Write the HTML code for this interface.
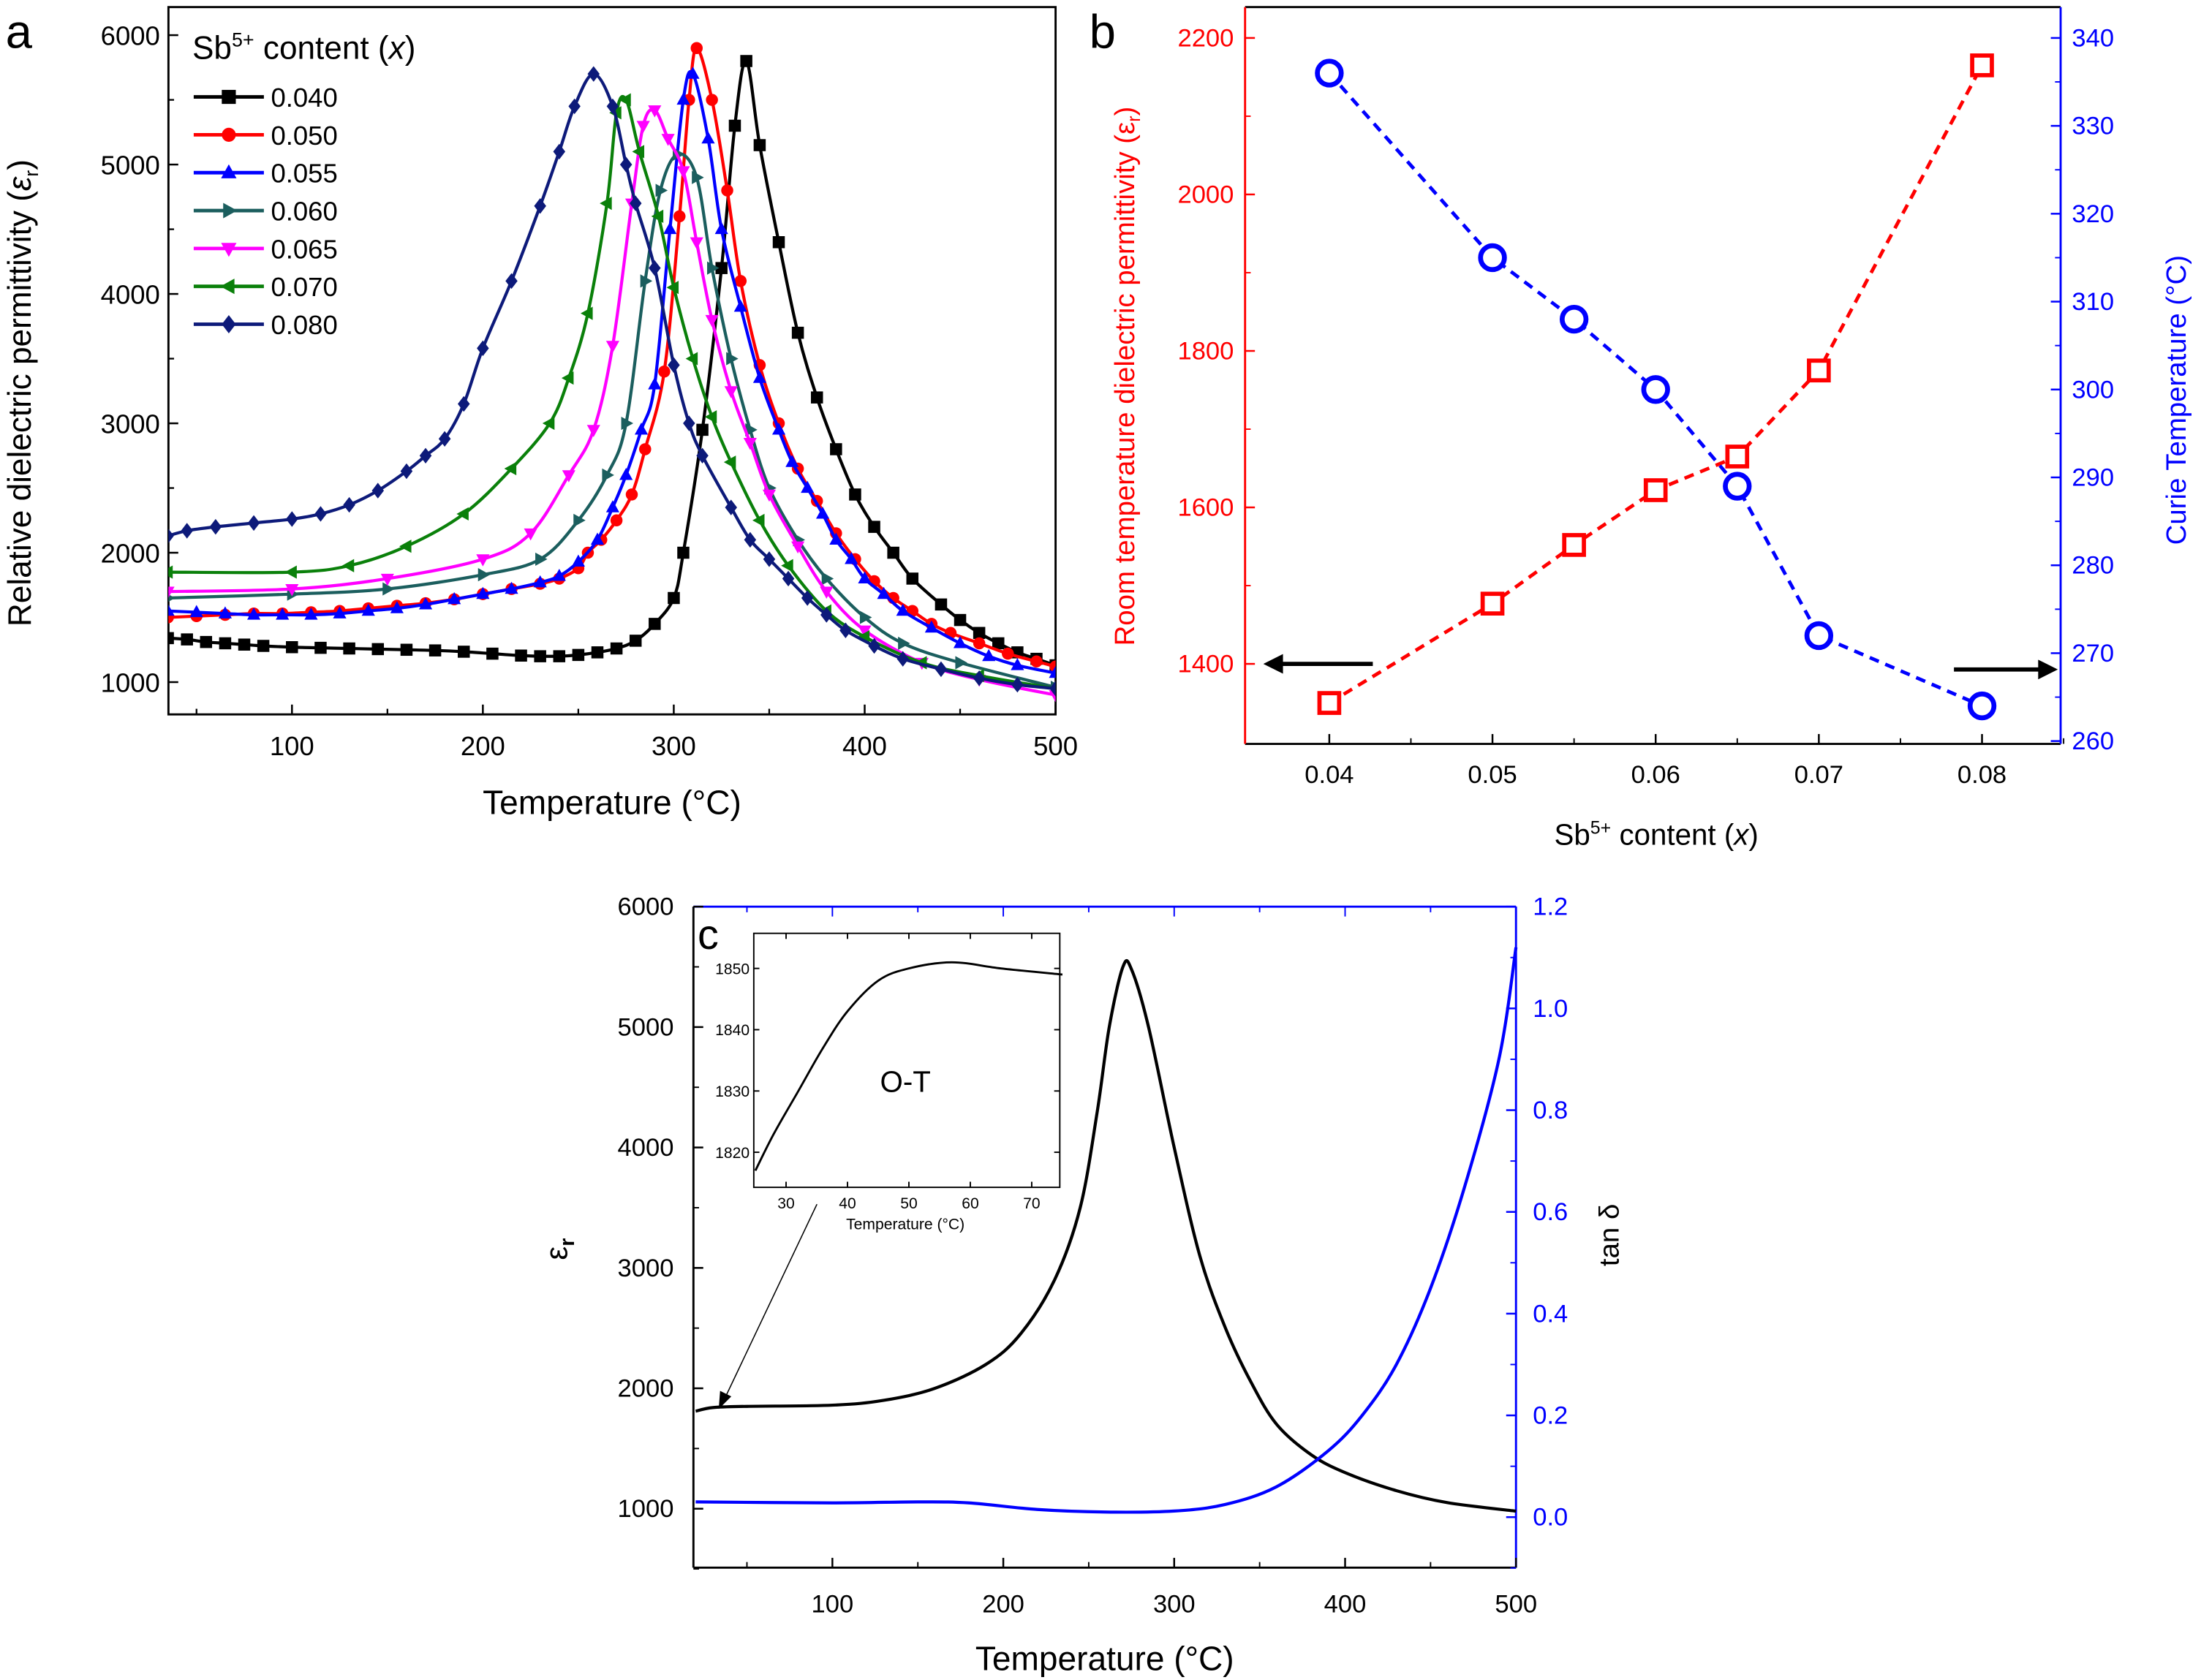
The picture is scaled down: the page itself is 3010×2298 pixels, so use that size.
<!DOCTYPE html>
<html><head><meta charset="utf-8"><style>
html,body{margin:0;padding:0;background:#fff}
svg{display:block;font-family:"Liberation Sans",Arial,sans-serif}
</style></head><body>
<svg id="fig" width="3010" height="2298" viewBox="0 0 1568 1197" xmlns="http://www.w3.org/2000/svg">
<g id="pa"></g>
<g id="pb"></g>
<g id="pc"></g>
</svg>
<script>
// ---------- Panel a data ----------
const aSeriesNames = ["0.040","0.050","0.055","0.060","0.065","0.070","0.080"];
const aColors = ["#000000","#ff0000","#0000ff","#1b5e5e","#ff00ff","#0a800a","#0d1a7a"];
const aMarkers = ["square","circle","up","right","down","left","diamond"];
const aT040 = [35,45,55,65,75,85,100,115,130,145,160,175,190,205,220,230,240,250,260,270,280,290,300,305,315,325,332,338,345,355,365,375,385,395,405,415,425,440,450,460,470,480,490,500];
const aE040 = [1340,1330,1310,1300,1290,1280,1270,1265,1260,1255,1250,1245,1235,1220,1205,1200,1200,1210,1230,1260,1320,1450,1650,2000,2950,4200,5300,5800,5150,4400,3700,3200,2800,2450,2200,2000,1800,1600,1480,1380,1300,1230,1180,1130];
const aT050 = [35,50,65,80,95,110,125,140,155,170,185,200,215,230,240,250,255,262,270,278,285,295,303,308,312,320,328,335,345,355,365,375,385,395,405,415,425,435,445,460,475,490,500];
const aE050 = [1500,1510,1520,1530,1530,1540,1550,1570,1590,1610,1640,1680,1720,1760,1800,1880,2000,2100,2250,2450,2800,3400,4600,5500,5900,5500,4800,4100,3450,3000,2650,2400,2150,1950,1780,1650,1550,1450,1380,1300,1220,1160,1120];
const aT055 = [35,50,65,80,95,110,125,140,155,170,185,200,215,230,240,250,260,268,275,283,290,298,305,310,318,325,335,345,355,362,370,378,385,393,400,410,420,435,450,465,480,500];
const aE055 = [1550,1540,1530,1520,1520,1520,1530,1550,1570,1600,1640,1680,1720,1770,1820,1930,2100,2350,2600,2950,3300,4500,5500,5700,5200,4500,3900,3350,2950,2700,2500,2300,2100,1950,1800,1680,1550,1420,1300,1200,1130,1070];
const aT060 = [35,100,150,200,230,250,265,275,285,293,302,312,320,330,340,350,365,380,400,420,450,500];
const aE060 = [1650,1680,1720,1830,1950,2250,2600,3000,4100,4800,5080,4900,4200,3500,2950,2500,2100,1800,1500,1300,1150,960];
const aT065 = [35,100,150,200,225,245,258,268,278,284,290,297,305,312,320,330,340,350,365,380,400,430,460,500];
const aE065 = [1700,1720,1800,1950,2150,2600,2950,3600,4700,5300,5420,5200,4950,4400,3800,3250,2850,2450,2050,1700,1400,1150,1020,900];
const aT070 = [35,100,130,160,190,215,235,245,255,265,270,275,282,292,300,310,320,330,345,360,380,400,430,460,500];
const aE070 = [1850,1850,1900,2050,2300,2650,3000,3350,3850,4700,5400,5500,5100,4600,4050,3500,3050,2700,2250,1900,1550,1350,1150,1050,950];
const aT080 = [35,45,60,80,100,115,130,145,160,170,180,190,200,215,230,240,248,258,268,275,280,290,300,308,315,330,340,350,360,370,380,390,405,420,440,460,480,500];
const aE080 = [2130,2170,2200,2230,2260,2300,2370,2480,2630,2750,2880,3150,3580,4100,4680,5100,5450,5700,5450,5000,4700,4200,3450,3000,2750,2350,2100,1950,1800,1650,1520,1400,1280,1180,1100,1030,980,950];
const aTs = [aT040,aT050,aT055,aT060,aT065,aT070,aT080];
const aEs = [aE040,aE050,aE055,aE060,aE065,aE070,aE080];
const aXTicks = [100,200,300,400,500];
const aYTicks = [1000,2000,3000,4000,5000,6000];
// ---------- Panel b data ----------
const bX = [0.04,0.05,0.055,0.06,0.065,0.07,0.08];
const bEps = [1350,1477,1552,1622,1665,1775,2165];
const bTc = [336,315,308,300,289,272,264];
const bXTicks = [0.04,0.05,0.06,0.07,0.08];
const bLTicks = [1400,1600,1800,2000,2200];
const bRTicks = [260,270,280,290,300,310,320,330,340];
// ---------- Panel c data ----------
const cT = [20,30,50,100,130,160,190,210,230,245,255,262,270,275,285,300,315,330,345,360,380,400,430,460,500];
const cE = [1810,1840,1850,1860,1900,2000,2200,2450,2900,3500,4300,5000,5500,5480,5000,4000,3100,2500,2050,1700,1450,1300,1150,1050,980];
const cTanT = [20,100,150,180,220,260,300,330,360,390,410,430,450,470,490,500];
const cTan = [0.03,0.028,0.03,0.028,0.015,0.01,0.012,0.025,0.06,0.13,0.2,0.3,0.45,0.65,0.9,1.12];
const cXTicks = [100,200,300,400,500];
const cLTicks = [1000,2000,3000,4000,5000,6000];
const cRTicks = [0.0,0.2,0.4,0.6,0.8,1.0,1.2];
const iT = [25,28,32,36,40,45,50,57,65,75];
const iE = [1817,1823,1830,1837,1843,1848,1850,1851,1850,1849];
const iXTicks = [30,40,50,60,70];
const iYTicks = [1820,1830,1840,1850];

const NS="http://www.w3.org/2000/svg";
function el(parent,tag,attrs,text){const e=document.createElementNS(NS,tag);for(const k in attrs)e.setAttribute(k,attrs[k]);if(text!==undefined)e.textContent=text;parent.appendChild(e);return e;}
function lin(d0,d1,r0,r1){return v=>r0+(v-d0)*(r1-r0)/(d1-d0);}
function smooth(pts){let d=`M${pts[0][0]},${pts[0][1]}`;for(let i=0;i<pts.length-1;i++){const p0=pts[Math.max(0,i-1)],p1=pts[i],p2=pts[i+1],p3=pts[Math.min(pts.length-1,i+2)];const c1=[p1[0]+(p2[0]-p0[0])/6,p1[1]+(p2[1]-p0[1])/6],c2=[p2[0]-(p3[0]-p1[0])/6,p2[1]-(p3[1]-p1[1])/6];d+=`C${c1[0]},${c1[1]} ${c2[0]},${c2[1]} ${p2[0]},${p2[1]}`;}return d;}
function marker(g,type,x,y,c,s){let e;
 if(type==="square")e=el(g,"rect",{x:x-s,y:y-s,width:2*s,height:2*s,fill:c});
 else if(type==="circle")e=el(g,"circle",{cx:x,cy:y,r:s,fill:c});
 else{let p;
  if(type==="up")p=[[x,y-s*1.2],[x+s*1.1,y+s*0.8],[x-s*1.1,y+s*0.8]];
  if(type==="down")p=[[x,y+s*1.2],[x+s*1.1,y-s*0.8],[x-s*1.1,y-s*0.8]];
  if(type==="right")p=[[x+s*1.2,y],[x-s*0.8,y-s*1.1],[x-s*0.8,y+s*1.1]];
  if(type==="left")p=[[x-s*1.2,y],[x+s*0.8,y-s*1.1],[x+s*0.8,y+s*1.1]];
  if(type==="diamond")p=[[x,y-s*1.3],[x+s,y],[x,y+s*1.3],[x-s,y]];
  e=el(g,"polygon",{points:p.map(q=>q.join(",")).join(" "),fill:c});}
 return e;}

// ================= Panel a =================
(function(){
 const g=document.getElementById("pa");
 const L=120,R=752,T=5,B=509;
 const x=lin(100,500,208,752), y=lin(1000,6000,486,25);
 el(g,"text",{x:4,y:34,"font-size":34,},"a");
 el(g,"rect",{x:L,y:T,width:R-L,height:B-T,fill:"none",stroke:"#000","stroke-width":1.5,});
 aXTicks.forEach(v=>{el(g,"line",{x1:x(v),x2:x(v),y1:B,y2:B-7,stroke:"#000","stroke-width":1.3});
  const t=el(g,"text",{x:x(v),y:B+29,"text-anchor":"middle","font-size":19},v);
  el(g,"line",{x1:x(v-50),x2:x(v-50),y1:B,y2:B-4,stroke:"#000","stroke-width":1.2});});
 aYTicks.forEach(v=>{el(g,"line",{x1:L,x2:L+7,y1:y(v),y2:y(v),stroke:"#000","stroke-width":1.3});
  const t=el(g,"text",{x:L-6,y:y(v)+7,"text-anchor":"end","font-size":19},v);
  el(g,"line",{x1:L,x2:L+4,y1:y(v+500),y2:y(v+500),stroke:"#000","stroke-width":1.2});});
 el(g,"text",{x:436,y:580,"text-anchor":"middle","font-size":24,},"Temperature (°C)");
 const yt=el(g,"text",{transform:"translate(22,280) rotate(-90)","text-anchor":"middle","font-size":23,});
 yt.innerHTML='Relative dielectric permittivity (<tspan font-style="italic">ε</tspan><tspan font-size="14" dy="5">r</tspan><tspan dy="-5">)</tspan>';
 const clip=el(g,"clipPath",{id:"clipA"});el(clip,"rect",{x:L,y:T,width:R-L,height:B-T});
 const cg=el(g,"g",{"clip-path":"url(#clipA)"});
 for(let s=0;s<aTs.length;s++){
  const pts=aTs[s].map((t,i)=>[x(t),y(aEs[s][i])]);
  const sg=el(cg,"g",{});
  
  
  el(sg,"path",{d:smooth(pts),fill:"none",stroke:aColors[s],"stroke-width":2.2});
  pts.forEach(p=>{const m=marker(sg,aMarkers[s],p[0],p[1],aColors[s],4.3);});
 }
 const lg=el(g,"g",{});
 const tt=el(lg,"text",{x:137,y:42,"font-size":23});
 tt.innerHTML='Sb<tspan font-size="14" dy="-9">5+</tspan><tspan dy="9"> content (</tspan><tspan font-style="italic">x</tspan>)';
 aSeriesNames.forEach((n,i)=>{const yy=69+27*i;
  const e=el(lg,"g",{});
  el(e,"line",{x1:138,x2:188,y1:yy,y2:yy,stroke:aColors[i],"stroke-width":2.5});
  marker(e,aMarkers[i],163,yy,aColors[i],5);
  el(e,"text",{x:193,y:yy+7,"font-size":19},n);});
})();

// ================= Panel b =================
(function(){
 const g=document.getElementById("pb");
 const L=887,R=1468,T=5,B=530;
 const x=lin(0.04,0.08,947,1412), yl=lin(1400,2200,473,27), yr=lin(260,340,528,27);
 el(g,"text",{x:776,y:34,"font-size":34,},"b");
 el(g,"line",{x1:L,x2:R,y1:B,y2:B,stroke:"#000","stroke-width":1.5});
 el(g,"line",{x1:L,x2:R,y1:T,y2:T,stroke:"#000","stroke-width":1.5});
 el(g,"line",{x1:L,x2:L,y1:T,y2:B,stroke:"#f00","stroke-width":1.5,});
 el(g,"line",{x1:R,x2:R,y1:T,y2:B,stroke:"#00f","stroke-width":1.5,});
 bXTicks.forEach(v=>{el(g,"line",{x1:x(v),x2:x(v),y1:B,y2:B-7,stroke:"#000","stroke-width":1.3});el(g,"line",{x1:x(v+0.005),x2:x(v+0.005),y1:B,y2:B-4,stroke:"#000"});
  const t=el(g,"text",{x:x(v),y:B+28,"text-anchor":"middle","font-size":18},v.toFixed(2));});
 bLTicks.forEach(v=>{el(g,"line",{x1:L,x2:L+7,y1:yl(v),y2:yl(v),stroke:"#f00","stroke-width":1.3});el(g,"line",{x1:L,x2:L+4,y1:yl(v+100),y2:yl(v+100),stroke:"#f00"});
  const t=el(g,"text",{x:L-8,y:yl(v)+6,"text-anchor":"end","font-size":18,fill:"#f00"},v);});
 bRTicks.forEach(v=>{el(g,"line",{x1:R,x2:R-7,y1:yr(v),y2:yr(v),stroke:"#00f","stroke-width":1.3});el(g,"line",{x1:R,x2:R-4,y1:yr(v+5),y2:yr(v+5),stroke:"#00f"});
  const t=el(g,"text",{x:R+8,y:yr(v)+6,"font-size":18,fill:"#00f"},v);});
 const xt=el(g,"text",{x:1180,y:602,"text-anchor":"middle","font-size":21,});
 xt.innerHTML='Sb<tspan font-size="13" dy="-8">5+</tspan><tspan dy="8"> content (</tspan><tspan font-style="italic">x</tspan>)';
 const yt=el(g,"text",{transform:"translate(808,268) rotate(-90)","text-anchor":"middle","font-size":20,fill:"#f00",});
 yt.innerHTML='Room temperature dielectric permittivity (ε<tspan font-size="13" dy="4">r</tspan><tspan dy="-4">)</tspan>';
 el(g,"text",{transform:"translate(1557,285) rotate(-90)","text-anchor":"middle","font-size":20,fill:"#00f",},"Curie Temperature (°C)");
 const rp=bX.map((v,i)=>[x(v),yl(bEps[i])]);
 el(g,"polyline",{points:rp.map(p=>p.join(",")).join(" "),fill:"none",stroke:"#f00","stroke-width":2.5,"stroke-dasharray":"7,5",});
 rp.forEach(p=>{const m=el(g,"rect",{x:p[0]-7,y:p[1]-7,width:14,height:14,fill:"#fff",stroke:"#f00","stroke-width":3});});
 const bp=bX.map((v,i)=>[x(v),yr(bTc[i])]);
 el(g,"polyline",{points:bp.map(p=>p.join(",")).join(" "),fill:"none",stroke:"#00f","stroke-width":2.5,"stroke-dasharray":"7,5",});
 bp.forEach(p=>{const m=el(g,"circle",{cx:p[0],cy:p[1],r:8.5,fill:"#fff",stroke:"#00f","stroke-width":3.5});});
 el(g,"line",{x1:978,x2:912,y1:473,y2:473,stroke:"#000","stroke-width":3});
 el(g,"polygon",{points:"900,473 914,466 914,480",fill:"#000",});
 el(g,"line",{x1:1392,x2:1454,y1:477,y2:477,stroke:"#000","stroke-width":3});
 el(g,"polygon",{points:"1466,477 1452,470 1452,484",fill:"#000",});
})();

// ================= Panel c =================
(function(){
 const g=document.getElementById("pc");
 const L=494,R=1080,T=646,B=1117;
 const x=lin(100,500,593,1080), yl=lin(1000,6000,1075,646), yr=lin(0,1.2,1081,646);
 el(g,"line",{x1:L,x2:R,y1:B,y2:B,stroke:"#000","stroke-width":1.5});
 el(g,"line",{x1:L,x2:R,y1:T,y2:T,stroke:"#00f","stroke-width":1.5});
 el(g,"line",{x1:L,x2:L,y1:T,y2:B,stroke:"#000","stroke-width":1.5});
 el(g,"line",{x1:R,x2:R,y1:T,y2:B,stroke:"#00f","stroke-width":1.5});
 el(g,"text",{x:497,y:676,"font-size":30,},"c");
 cXTicks.forEach(v=>{el(g,"line",{x1:x(v),x2:x(v),y1:B,y2:B-7,stroke:"#000","stroke-width":1.3});el(g,"line",{x1:x(v-50),x2:x(v-50),y1:B,y2:B-4,stroke:"#000"});
  el(g,"line",{x1:x(v),x2:x(v),y1:T,y2:T+7,stroke:"#00f"});el(g,"line",{x1:x(v-50),x2:x(v-50),y1:T,y2:T+4,stroke:"#00f"});
  const t=el(g,"text",{x:x(v),y:B+32,"text-anchor":"middle","font-size":18},v);});
 cLTicks.forEach(v=>{el(g,"line",{x1:L,x2:L+7,y1:yl(v),y2:yl(v),stroke:"#000","stroke-width":1.3});el(g,"line",{x1:L,x2:L+4,y1:yl(v-500),y2:yl(v-500),stroke:"#000"});
  const t=el(g,"text",{x:L-14,y:yl(v)+6,"text-anchor":"end","font-size":18},v);});
 cRTicks.forEach(v=>{el(g,"line",{x1:R,x2:R-7,y1:yr(v),y2:yr(v),stroke:"#00f","stroke-width":1.3});el(g,"line",{x1:R,x2:R-4,y1:yr(v-0.1),y2:yr(v-0.1),stroke:"#00f"});
  const t=el(g,"text",{x:R+12,y:yr(v)+6,"font-size":18,fill:"#00f"},v.toFixed(1));});
 el(g,"text",{x:787,y:1190,"text-anchor":"middle","font-size":24,},"Temperature (°C)");
 const yt=el(g,"text",{transform:"translate(404,890) rotate(-90)","text-anchor":"middle","font-size":22,});
 yt.innerHTML='ε<tspan font-size="15" dy="5" font-weight="bold">r</tspan>';
 el(g,"text",{transform:"translate(1153,880) rotate(-90)","text-anchor":"middle","font-size":20,},"tan δ");
 const pe=cT.map((t,i)=>[x(t),yl(cE[i])]);
 el(g,"path",{d:smooth(pe),fill:"none",stroke:"#000","stroke-width":2.2,});
 const pt=cTanT.map((t,i)=>[x(t),yr(cTan[i])]);
 el(g,"path",{d:smooth(pt),fill:"none",stroke:"#00f","stroke-width":2.2,});
 const iL=537,iR=755,iTp=665,iB=846;
 const ix=lin(30,70,560,735), iy=lin(1820,1850,821,690);
 const ig=el(g,"g",{});
 el(ig,"rect",{x:iL,y:iTp,width:iR-iL,height:iB-iTp,fill:"#fff",stroke:"#000","stroke-width":1});
 iXTicks.forEach(v=>{el(ig,"line",{x1:ix(v),x2:ix(v),y1:iB,y2:iB-4,stroke:"#000"});el(ig,"line",{x1:ix(v),x2:ix(v),y1:iTp,y2:iTp+4,stroke:"#000"});
  const t=el(ig,"text",{x:ix(v),y:iB+15,"text-anchor":"middle","font-size":11},v);});
 iYTicks.forEach(v=>{el(ig,"line",{x1:iL,x2:iL+4,y1:iy(v),y2:iy(v),stroke:"#000"});el(ig,"line",{x1:iR,x2:iR-4,y1:iy(v),y2:iy(v),stroke:"#000"});
  const t=el(ig,"text",{x:iL-3,y:iy(v)+4,"text-anchor":"end","font-size":11},v);});
 el(ig,"text",{x:645,y:876,"text-anchor":"middle","font-size":11,},"Temperature (°C)");
 el(ig,"text",{x:645,y:778,"text-anchor":"middle","font-size":21,},"O-T");
 const ip=iT.map((t,i)=>[ix(t),iy(iE[i])]);
 el(ig,"path",{d:smooth(ip),fill:"none",stroke:"#000","stroke-width":1.5});
 el(g,"line",{x1:582,y1:858,x2:517,y2:995,stroke:"#000","stroke-width":0.8,});
 el(g,"polygon",{points:"512,1004 513,991 521,995",fill:"#000"});
})();
</script>
</body></html>
